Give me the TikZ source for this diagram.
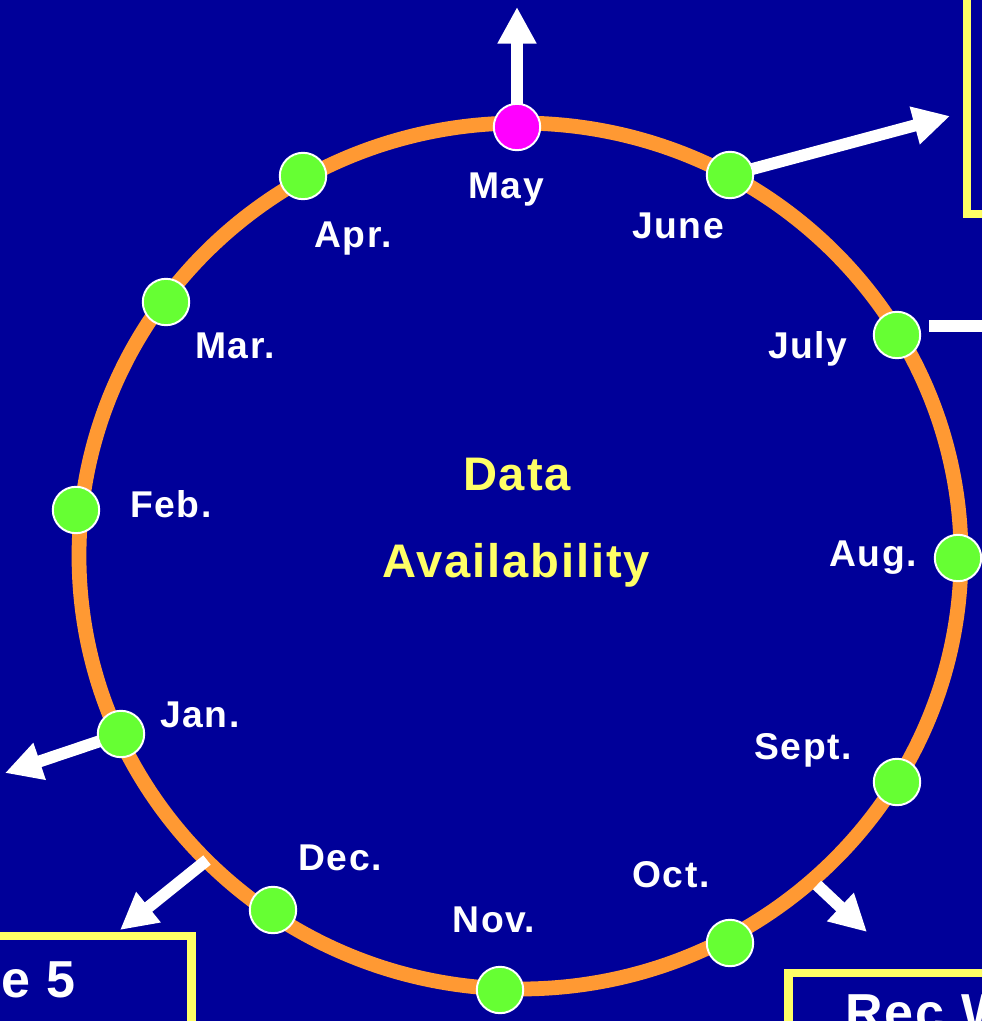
\documentclass[tikz,border=0pt]{standalone}
\usepackage{fontspec}
\setmainfont{Liberation Sans}[LetterSpace=4]
\usetikzlibrary{arrows.meta}
\definecolor{slideblue}{RGB}{0,0,153}
\definecolor{ringorange}{RGB}{255,153,51}
\definecolor{dotgreen}{RGB}{102,255,51}
\definecolor{dotpink}{RGB}{255,0,255}
\definecolor{softyellow}{RGB}{255,255,102}
\newcommand{\bigarrow}[2]{%
  \draw[bigarrow] (#1) -- (#2)}
\newcommand{\monthname}[3]{%
  \node[monthtext, anchor=base] (#1-l) at (#2) {#3}}

\begin{document}
\begin{tikzpicture}[x=0.025cm, y=-0.025cm,
    month/.style={circle, draw=white, line width=1.4pt, fill=dotgreen,
    minimum size=33pt, inner sep=0pt},
    monthtext/.style={text=white, font=\fontsize{26.5}{30}\selectfont\bfseries,
    inner sep=0pt},
    bigtext/.style={text=softyellow, font=\fontsize{33.5}{40}\selectfont\bfseries,
    inner sep=0pt, anchor=base},
    bigarrow/.style={draw=white, line width=8.5pt,
    -{Triangle[length=26pt, width=26pt]}},
    framebox/.style={draw=softyellow, line width=5.7pt}]
  \useasboundingbox (0,0) rectangle (982,1021);
  \clip (0,0) rectangle (982,1021);
  \fill[slideblue] (0,0) rectangle (982,1021);

  % frames round the other stages
  \draw[framebox] (967,-20) rectangle (1100,214);
  \draw[framebox] (-100,935.5) rectangle (191.5,1100);
  \draw[framebox] (788.5,973) rectangle (1100,1100);
  \node[text=white, font=\fontsize{37}{44}\selectfont\bfseries, inner sep=0pt,
    anchor=base east] (stage) at (76,997) {e 5};
  \node[text=white, font=\fontsize{37}{44}\selectfont\bfseries, inner sep=0pt,
    anchor=base west] (rec) at (845,1030) {Rec W};

  % the year
  \draw[ringorange, line width=10.5pt] (520,556) ellipse [x radius=441, y radius=433];

  \coordinate (may-t) at (517,7);
  \coordinate (june-t) at (950,116);
  \coordinate (july-s) at (929,326);
  \coordinate (july-t) at (1000,326);
  \coordinate (jan-t) at (5,773);
  \coordinate (dec-s) at (207,860);
  \coordinate (dec-t) at (120,930);
  \coordinate (oct-s) at (817,885);
  \coordinate (oct-t) at (867,932);

  \bigarrow{517,127}{may-t};
  \bigarrow{730,175}{june-t};
  \draw[white, line width=8.5pt] (july-s) -- (july-t);
  \bigarrow{121,734}{jan-t};
  \bigarrow{dec-s}{dec-t};
  \bigarrow{oct-s}{oct-t};

  \node[month, fill=dotpink] (may) at (517,127) {};
  \node[month] (june) at (730,175) {};
  \node[month] (july) at (897,335) {};
  \node[month] (aug) at (958,558) {};
  \node[month] (sept) at (897,782) {};
  \node[month] (oct) at (730,943) {};
  \node[month] (nov) at (500,990) {};
  \node[month] (dec) at (273,910) {};
  \node[month] (jan) at (121,734) {};
  \node[month] (feb) at (76,510) {};
  \node[month] (mar) at (166,302) {};
  \node[month] (apr) at (303,176) {};

  \monthname{may}{506,198}{May};
  \monthname{june}{678,238}{June};
  \monthname{july}{808,358}{July};
  \monthname{aug}{873,566}{Aug.};
  \monthname{sept}{803,759}{Sept.};
  \monthname{oct}{671,887}{Oct.};
  \monthname{nov}{494,932}{Nov.};
  \monthname{dec}{340,870}{Dec.};
  \monthname{jan}{200,727}{Jan.};
  \monthname{feb}{171,517}{Feb.};
  \monthname{mar}{235,358}{Mar.};
  \monthname{apr}{353,247}{Apr.};

  \node[bigtext] (data) at (517,490) {Data};
  \node[bigtext] (avail) at (516,577) {Availability};
\end{tikzpicture}
\end{document}
